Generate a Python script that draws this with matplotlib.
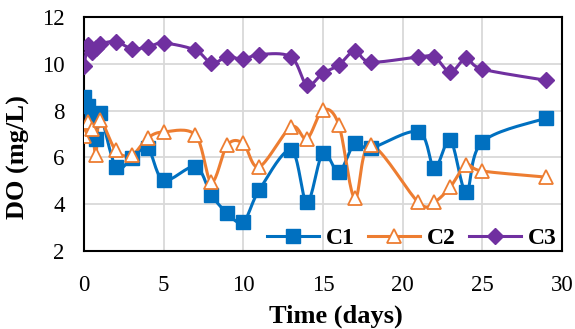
import numpy as np
import matplotlib.pyplot as plt

plt.rcParams['font.family'] = ['Liberation Serif', 'DejaVu Serif']

days = [0, 0.25, 0.5, 0.75, 1, 2, 3, 4, 5, 7, 8, 9, 10, 11, 13, 14, 15, 16, 17, 18, 21, 22, 23, 24, 25, 29]
c1 = [8.6, 8.2, 7.6, 6.8, 7.9, 5.6, 5.97, 6.4, 5.03, 5.6, 4.4, 3.62, 3.24, 4.6,
      6.32, 4.09, 6.19, 5.38, 6.6, 6.4, 7.1, 5.55, 6.74, 4.52, 6.66, 7.68]
c2 = [6.9, 7.5, 7.2, 6.1, 7.6, 6.3, 6.1, 6.83, 7.09, 6.96, 4.95, 6.53, 6.6, 5.6,
      7.3, 6.8, 8.03, 7.4, 4.26, 6.53, 4.08, 4.1, 4.74, 5.67, 5.42, 5.16]
c3 = [9.9, 10.8, 10.5, 10.7, 10.85, 10.95, 10.65, 10.72, 10.89, 10.59, 10.03, 10.3, 10.2, 10.4,
      10.3, 9.1, 9.6, 9.95, 10.55, 10.08, 10.3, 10.3, 9.65, 10.24, 9.78, 9.3]


def smooth(x, y, n=20):
    # Excel-like smoothing: uniform Catmull-Rom through the points
    p = np.column_stack([x, y]).astype(float)
    p = np.vstack([p[0], p, p[-1]])
    t = np.linspace(0, 1, n)[:, None]
    out = []
    for i in range(1, len(p) - 2):
        p0, p1, p2, p3 = p[i - 1], p[i], p[i + 1], p[i + 2]
        seg = 0.5 * ((2 * p1) + (-p0 + p2) * t + (2 * p0 - 5 * p1 + 4 * p2 - p3) * t ** 2
                     + (-p0 + 3 * p1 - 3 * p2 + p3) * t ** 3)
        out.append(seg)
    out = np.vstack(out)
    return out[:, 0], out[:, 1]


fig = plt.figure(figsize=(5.75, 3.29), dpi=100)
ax = fig.add_axes([0.146, 0.237, 0.831, 0.711])

series = [('C1', c1, '#0070C0', 's', dict(markerfacecolor='#0070C0')),
          ('C2', c2, '#ED7D31', '^', dict(markerfacecolor='white', markeredgewidth=1.3)),
          ('C3', c3, '#7030A0', 'D', dict(markerfacecolor='#7030A0'))]
handles = []
for name, vals, col, mk, kw in series:
    sx, sy = smooth(days, vals)
    ax.plot(sx, sy, color=col, lw=2.2, zorder=3)
    ax.plot(days, vals, ls='none', marker=mk, color=col, markersize=9.5 if mk != 'D' else 8.5,
            zorder=4, **kw)
    h, = ax.plot([], [], color=col, lw=2.2, marker=mk, markersize=9.5 if mk != 'D' else 8.5, **kw)
    handles.append(h)

ax.set_xlim(0, 30)
ax.set_ylim(2, 12)
ax.set_xticks(range(0, 31, 5))
ax.set_yticks(range(2, 13, 2))
ax.grid(True, color='#D9D9D9', lw=1.3)
ax.set_axisbelow(True)
ax.tick_params(length=0, labelsize=16.5)
ax.tick_params(axis='x', pad=17)
ax.tick_params(axis='y', pad=14)
for s in ax.spines.values():
    s.set_linewidth(1.5)
    s.set_color('black')

ax.set_xlabel('Time (days)', fontsize=19, fontweight='bold', va='center')
ax.set_ylabel('DO (mg/L)', fontsize=19, fontweight='bold', va='center')
ax.xaxis.set_label_coords(0.527, -0.278)
ax.yaxis.set_label_coords(-0.138, 0.40)

leg = ax.legend(handles, ['C1', 'C2', 'C3'], ncol=3, loc='lower right', frameon=False,
                prop={'size': 17, 'weight': 'bold'}, handlelength=2.2, columnspacing=0.55,
                handletextpad=0.3, borderaxespad=0, bbox_to_anchor=(1.009, -0.032))

fig.savefig('out.png', dpi=100)
